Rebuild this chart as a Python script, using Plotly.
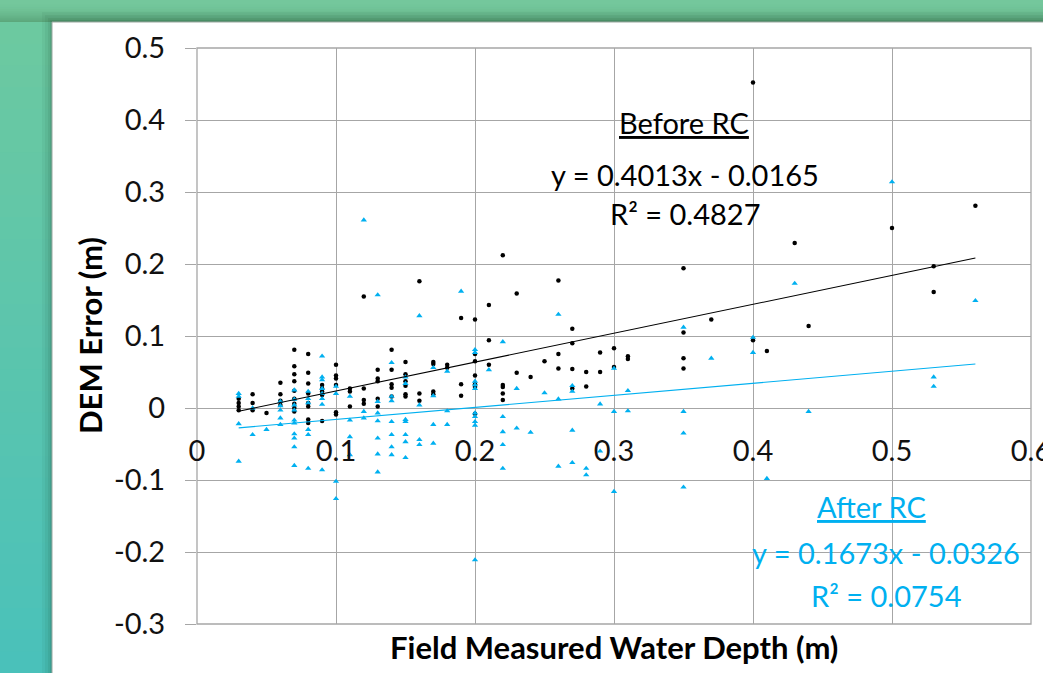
import plotly.graph_objects as go

# ---------------- data ----------------
before_x = [0.03]*4 + [0.04]*3 + [0.05] + [0.06]*4 + [0.07]*9 + [0.08]*8 + [0.09]*5 + [0.10]*6 + \
    [0.11]*3 + [0.12]*4 + [0.13]*5 + [0.14]*5 + [0.15]*6 + [0.16]*3 + [0.17]*4 + [0.18]*2 + \
    [0.19]*3 + [0.20]*7 + [0.21]*3 + [0.22]*5 + [0.23]*2 + [0.24] + [0.25] + [0.26]*3 + [0.27]*4 + \
    [0.28]*2 + [0.29]*2 + [0.30]*2 + [0.31]*2 + [0.35]*4 + [0.37] + [0.40]*2 + [0.41] + [0.43] + \
    [0.44] + [0.50] + [0.53]*2 + [0.56]
before_y = [0.013, 0.007, 0.002, -0.003,
            0.019, 0.007, -0.003,
            -0.007,
            0.035, 0.019, 0.010, 0.004,
            0.081, 0.058, 0.047, 0.037, 0.024, 0.013, 0.006, 0.000, -0.005,
            0.075, 0.049, 0.034, 0.020, 0.007, 0.002, -0.016, -0.021,
            0.032, 0.027, 0.023, 0.018, -0.018,
            0.060, 0.045, 0.041, 0.032, -0.006, -0.009,
            0.027, 0.023, 0.002,
            0.155, 0.027, 0.011, 0.006,
            0.053, 0.041, 0.037, 0.013, 0.002,
            0.081, 0.053, 0.033, 0.028, 0.016,
            0.064, 0.047, 0.037, 0.031, 0.019, 0.016,
            0.176, 0.020, 0.010,
            0.064, 0.061, 0.023, 0.019,
            0.060, 0.056,
            0.125, 0.033, 0.017,
            0.123, 0.075, 0.065, 0.045, 0.033, 0.029, -0.008,
            0.143, 0.094, 0.060,
            0.212, 0.032, 0.029, 0.020, 0.011,
            0.159, 0.049,
            0.043,
            0.065,
            0.177, 0.075, 0.055,
            0.110, 0.090, 0.054, 0.027,
            0.050, 0.030,
            0.077, 0.050,
            0.083, 0.057,
            0.072, 0.068,
            0.194, 0.105, 0.069, 0.055,
            0.123,
            0.452, 0.094,
            0.079,
            0.229,
            0.114,
            0.250,
            0.197, 0.161,
            0.281]

after_x = [0.03]*4 + [0.04]*2 + [0.05] + [0.06]*5 + [0.07]*10 + [0.08]*6 + [0.09]*8 + [0.10]*4 + \
    [0.11]*4 + [0.12]*3 + [0.13]*7 + [0.14]*7 + [0.15]*7 + [0.16]*4 + [0.17]*4 + [0.18]*3 + \
    [0.19] + [0.20]*10 + [0.21] + [0.22]*5 + [0.23]*2 + [0.24] + [0.25] + [0.26]*3 + [0.27]*4 + \
    [0.28]*2 + [0.29]*2 + [0.30]*3 + [0.31]*2 + [0.35]*4 + [0.37] + [0.40]*2 + [0.41] + [0.43] + \
    [0.44] + [0.50] + [0.53]*2 + [0.56]
after_y = [0.020, 0.016, -0.022, -0.074,
           0.000, -0.037,
           -0.030,
           0.009, 0.003, -0.003, -0.014, -0.023,
           0.025, 0.012, 0.004, -0.003, -0.017, -0.021, -0.036, -0.042, -0.054, -0.080,
           0.023, 0.013, 0.007, -0.030, -0.037, -0.084,
           0.072, 0.043, 0.039, 0.027, 0.020, 0.013, 0.005, -0.086,
           0.030, 0.020, -0.102, -0.126,
           0.016, -0.017, -0.040, -0.065,
           0.261, -0.005, -0.014,
           0.157, 0.009, -0.007, -0.018, -0.042, -0.064, -0.089,
           0.063, 0.016, 0.010, -0.019, -0.037, -0.054, -0.065,
           0.043, 0.034, -0.016, -0.019, -0.037, -0.047, -0.069,
           0.128, 0.004, -0.044, -0.051,
           0.056, 0.017, -0.023, -0.049,
           0.051, -0.004, -0.023,
           0.162,
           0.081, 0.077, 0.037, 0.032, 0.027, -0.007, -0.012, -0.019, -0.024, -0.211,
           0.053,
           0.092, -0.012, -0.033, -0.051, -0.084,
           0.027, -0.028,
           -0.034,
           0.021,
           0.130, 0.0125, -0.081,
           0.031, 0.023, -0.031, -0.076,
           -0.084, -0.093,
           0.0055, -0.060,
           0.055, -0.005, -0.116,
           0.024, -0.004,
           0.112, -0.005, -0.035, -0.110,
           0.069,
           0.098, 0.077,
           -0.098,
           0.173,
           -0.005,
           0.314,
           0.043, 0.030,
           0.149]

# trend line equations (as printed on chart)
before_fit = [0.4013, -0.0165]
after_fit = [0.1673, -0.0326]
before_label = ["Before RC", "y = 0.4013x - 0.0165", "R² = 0.4827"]
after_label = ["After RC", "y = 0.1673x - 0.0326", "R² = 0.0754"]

x_ticks = [0, 0.1, 0.2, 0.3, 0.4, 0.5, 0.6]
x_ticktext = ["0", "0.1", "0.2", "0.3", "0.4", "0.5", "0.6"]
y_ticks = [0.5, 0.4, 0.3, 0.2, 0.1, 0, -0.1, -0.2, -0.3]
y_ticktext = ["0.5", "0.4", "0.3", "0.2", "0.1", "0", "-0.1", "-0.2", "-0.3"]

# ---------------- figure ----------------
W, H = 1043, 673
ML, MR, MT, MB = 197, 12, 48, 49
BLUE = "#00b0f0"
GRID = "#a6a6a6"
FONT = "Lato"

def px(xp):
    return (xp - ML) / (W - ML - MR)

def py(yp):
    return (H - MB - yp) / (H - MT - MB)

def lerp(c1, c2, t):
    return "rgb(%d,%d,%d)" % tuple(round(a + (b - a) * t) for a, b in zip(c1, c2))

shapes = []
# top strip gradient
n = 12
for i in range(n):
    y0, y1 = 22 * i / n, 22 * (i + 1) / n
    shapes.append(dict(type="rect", xref="paper", yref="paper", layer="below",
                       x0=px(-5), x1=px(W + 5), y0=py(y0 - (5 if i == 0 else 0)), y1=py(y1 + 0.5),
                       line=dict(width=0), fillcolor=lerp((116, 199, 156), (92, 168, 124), (i / (n - 1)) ** 2)))
# left strip gradient
n = 30
for i in range(n):
    y0 = 22 + (H - 22) * i / n
    y1 = 22 + (H - 22) * (i + 1) / n
    shapes.append(dict(type="rect", xref="paper", yref="paper", layer="below",
                       x0=px(-5), x1=px(52), y0=py(y0), y1=py(y1 + 1 + (5 if i == n - 1 else 0)),
                       line=dict(width=0), fillcolor=lerp((108, 201, 160), (74, 193, 186), i / (n - 1))))
# shadow around panel
for k, a in [(10, 0.05), (7, 0.06), (4, 0.08), (2, 0.10)]:
    shapes.append(dict(type="rect", xref="paper", yref="paper", layer="below",
                       x0=px(52 - k), x1=px(W + 20), y0=py(22 - k), y1=py(H + 20),
                       line=dict(width=0), fillcolor="rgba(20,60,40,%.2f)" % a))
# white panel
shapes.append(dict(type="rect", xref="paper", yref="paper", layer="below",
                   x0=px(52), x1=px(W + 20), y0=py(22), y1=py(H + 20),
                   line=dict(width=1, color="#9aa7a0"), fillcolor="white"))
# plot-area frame
shapes.append(dict(type="rect", xref="x domain", yref="y domain", layer="below",
                   x0=0, x1=1, y0=0, y1=1, line=dict(width=1.3, color=GRID),
                   fillcolor="rgba(0,0,0,0)"))

fig = go.Figure()
fig.add_trace(go.Scatter(x=before_x, y=before_y, mode="markers", name="Before RC",
                         marker=dict(symbol="circle", size=4.5, color="black"), showlegend=False))
fig.add_trace(go.Scatter(x=after_x, y=after_y, mode="markers", name="After RC",
                         marker=dict(symbol="triangle-up", size=5.5, color=BLUE), showlegend=False))

bx = [min(before_x), max(before_x)]
fig.add_trace(go.Scatter(x=bx, y=[before_fit[0] * v + before_fit[1] for v in bx], mode="lines",
                         line=dict(color="black", width=1.1), showlegend=False, hoverinfo="skip"))
ax = [min(after_x), max(after_x)]
fig.add_trace(go.Scatter(x=ax, y=[after_fit[0] * v + after_fit[1] for v in ax], mode="lines",
                         line=dict(color=BLUE, width=1.1), showlegend=False, hoverinfo="skip"))

ann = []
tf = dict(family=FONT, size=29, color="black")
ann.append(dict(xref="x", yref="y", x=0.35, y=0.396, text="<u>" + before_label[0] + "</u>",
                showarrow=False, font=tf))
ann.append(dict(xref="x", yref="y", x=0.351, y=0.324, text=before_label[1], showarrow=False, font=tf))
ann.append(dict(xref="x", yref="y", x=0.351, y=0.270, text=before_label[2], showarrow=False, font=tf))
bf = dict(family=FONT, size=29, color=BLUE)
ann.append(dict(xref="x", yref="y", x=0.485, y=-0.137, text="<u>" + after_label[0] + "</u>",
                showarrow=False, font=bf))
ann.append(dict(xref="x", yref="y", x=0.496, y=-0.201, text=after_label[1], showarrow=False, font=bf))
ann.append(dict(xref="x", yref="y", x=0.496, y=-0.260, text=after_label[2], showarrow=False, font=bf))
# axis titles
ann.append(dict(xref="paper", yref="paper", x=0.5, y=py(647), xanchor="center", yanchor="middle",
                text="<b>Field Measured Water Depth (m)</b>",
                showarrow=False, font=dict(family=FONT, size=31, color="black")))
ann.append(dict(xref="paper", yref="paper", x=px(90), y=0.5, xanchor="center", yanchor="middle",
                text="<b>DEM Error (m)</b>", textangle=-90,
                showarrow=False, font=dict(family=FONT, size=31, color="black")))

fig.update_layout(
    width=W, height=H,
    margin=dict(l=ML, r=MR, t=MT, b=MB, autoexpand=False),
    paper_bgcolor="rgb(110,196,156)",
    plot_bgcolor="rgba(0,0,0,0)",
    shapes=shapes,
    annotations=ann,
    xaxis=dict(range=[0, 0.6], tickvals=x_ticks, ticktext=x_ticktext, showgrid=True,
               gridcolor=GRID, gridwidth=1.3, zeroline=False, showline=False,
               anchor="free", position=0.375, ticks="", ticklabelstandoff=23,
               ticklabeloverflow="allow",
               tickfont=dict(family=FONT, size=29, color="#111111")),
    yaxis=dict(range=[-0.3, 0.5], tickvals=y_ticks, ticktext=y_ticktext, showgrid=True,
               gridcolor=GRID, gridwidth=1.3, zeroline=False, showline=False,
               ticks="outside", ticklen=11, tickcolor=GRID, tickwidth=1.3, ticklabelstandoff=14,
               ticklabeloverflow="allow",
               tickfont=dict(family=FONT, size=29, color="#111111")),
)

fig.write_html("out.html", config={"displayModeBar": False},
               post_script="document.body.style.margin='0';document.body.style.overflow='hidden';")
